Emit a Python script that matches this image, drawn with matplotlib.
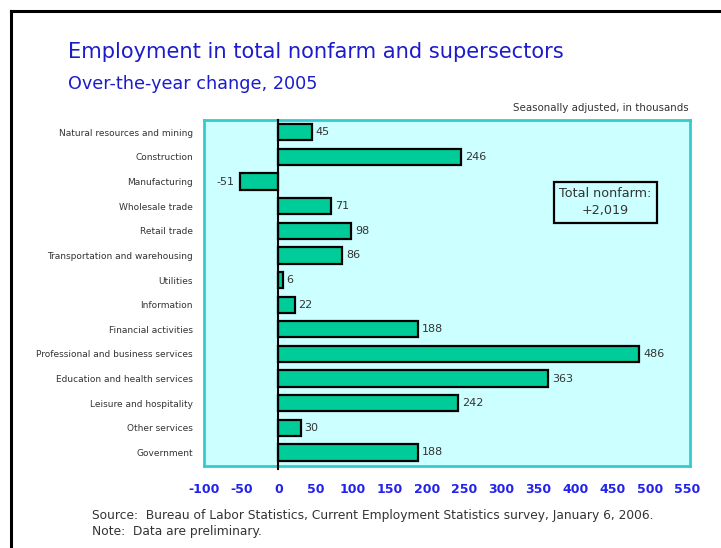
import numpy as np
import matplotlib
matplotlib.use("Agg")
import matplotlib.pyplot as plt
from matplotlib.lines import Line2D

plt.rcParams["font.family"] = ["DejaVu Sans"]

# over-the-year change by supersector, thousands
sectors = [
    "Natural resources and mining",
    "Construction",
    "Manufacturing",
    "Wholesale trade",
    "Retail trade",
    "Transportation and warehousing",
    "Utilities",
    "Information",
    "Financial activities",
    "Professional and business services",
    "Education and health services",
    "Leisure and hospitality",
    "Other services",
    "Government",
]
changes = [45, 246, -51, 71, 98, 86, 6, 22, 188, 486, 363, 242, 30, 188]
xticks = [-100, -50, 0, 50, 100, 150, 200, 250, 300, 350, 400, 450, 500, 550]
total_nonfarm = "+2,019"

blue = "#1c1ccc"
gray = "#333333"

fig = plt.figure(figsize=(7.21, 5.48), dpi=100)
ax = fig.add_axes([0.283, 0.1496, 0.674, 0.6314])

y = np.arange(len(sectors))
ax.barh(y, changes, height=0.66, color="#00cc99", edgecolor="black", linewidth=1.6, zorder=3)
ax.set_ylim(len(sectors) - 0.45, -0.5)
ax.set_xlim(-98, 554)
ax.set_facecolor("#ccffff")
for s in ax.spines.values():
    s.set_color("#33cccc")
    s.set_linewidth(2)

ax.axvline(0, ymin=-0.008, ymax=1, color="black", linewidth=1.5, zorder=4, clip_on=False)

ax.set_yticks(y)
ax.set_yticklabels(sectors, fontsize=6.5, color=gray)
ax.tick_params(axis="y", length=0, pad=8)
ax.set_xticks(xticks)
ax.set_xticklabels([str(t) for t in xticks], fontsize=9, color="#2222ee", fontweight="bold")
ax.tick_params(axis="x", length=0, pad=12)

for yi, v in zip(y, changes):
    if v >= 0:
        ax.text(v + 5, yi, str(v), ha="left", va="center", fontsize=8, color=gray, zorder=5)
    else:
        ax.text(v - 8, yi, str(v), ha="right", va="center", fontsize=8, color=gray, zorder=5)

ax.text(0.826, 0.762, "Total nonfarm:\n" + total_nonfarm, transform=ax.transAxes,
        ha="center", va="center", fontsize=9.2, color=gray, linespacing=1.4,
        bbox=dict(boxstyle="square,pad=0.45", facecolor="#ccffff", edgecolor="black", linewidth=1.6),
        zorder=6)

fig.text(68 / 721, 1 - 52 / 548, "Employment in total nonfarm and supersectors",
         fontsize=15.1, color=blue, va="center", ha="left")
fig.text(68 / 721, 1 - 84 / 548, "Over-the-year change, 2005",
         fontsize=12.7, color=blue, va="center", ha="left")
fig.text(689 / 721, 1 - 108 / 548, "Seasonally adjusted, in thousands",
         fontsize=7.4, color=gray, va="center", ha="right")
fig.text(92 / 721, 1 - 516 / 548,
         "Source:  Bureau of Labor Statistics, Current Employment Statistics survey, January 6, 2006.",
         fontsize=8.8, color=gray, va="center", ha="left")
fig.text(92 / 721, 1 - 532 / 548, "Note:  Data are preliminary.",
         fontsize=8.8, color=gray, va="center", ha="left")

# outer frame, left and top edges
fig.add_artist(Line2D([11 / 721, 11 / 721], [0, 1 - 11 / 548], transform=fig.transFigure,
                      color="black", linewidth=2.2))
fig.add_artist(Line2D([11 / 721, 1], [1 - 11 / 548, 1 - 11 / 548], transform=fig.transFigure,
                      color="black", linewidth=2.2))

fig.savefig("out.png", dpi=100)
